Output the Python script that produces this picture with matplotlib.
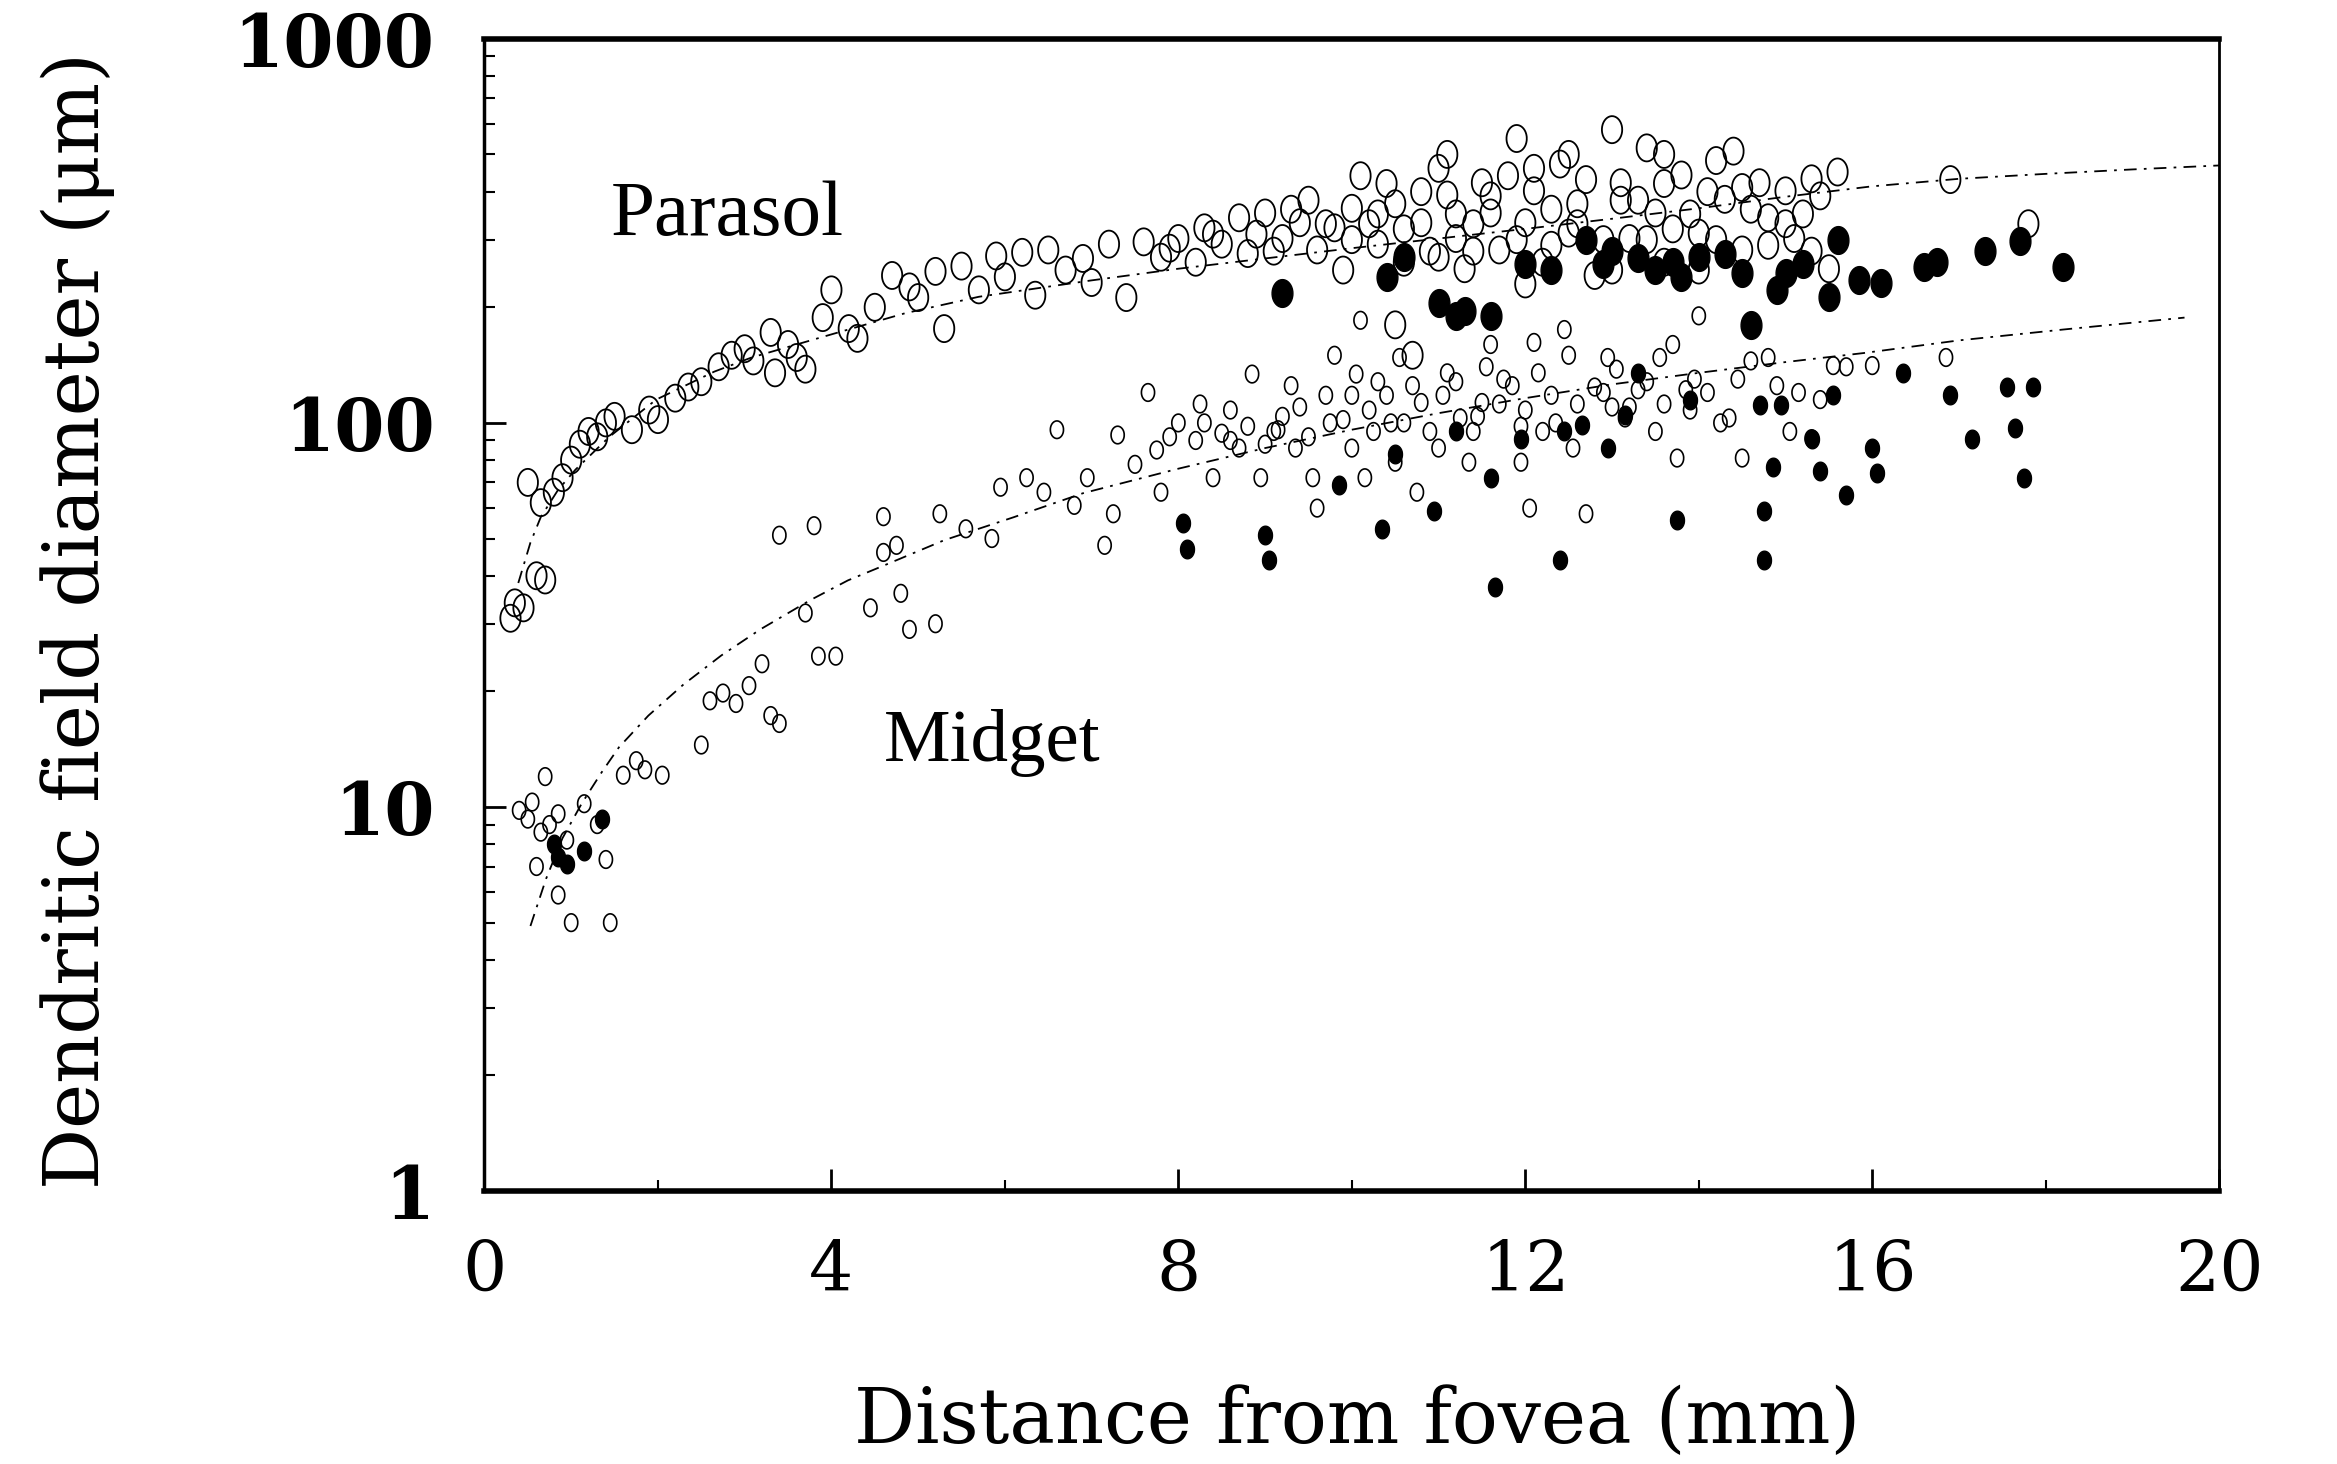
import numpy as np
import matplotlib
matplotlib.use("Agg")
import matplotlib.pyplot as plt
from matplotlib.path import Path
from matplotlib.ticker import FixedLocator, NullFormatter

# parasol cells, open symbols (distance mm, diameter um)
parasol_open_x = [0.3, 0.35, 0.45, 0.6, 0.7, 0.5, 0.65, 0.8, 0.9, 1.0, 1.1, 1.2, 1.3, 1.4, 1.5, 1.7, 1.9, 2.0,
                  2.2, 2.35, 2.5, 2.7, 2.85, 3.0, 3.1, 3.3, 3.35, 3.5, 3.6, 3.7, 3.9, 4.0, 4.2, 4.3, 4.5, 4.7,
                  4.9, 5.0, 5.2, 5.3, 5.5, 5.7, 5.9, 6.0, 6.2, 6.35, 6.5, 6.7, 6.9, 7.0, 7.2, 7.4, 7.6, 7.8,
                  8.0, 8.2, 8.3, 8.5, 8.7, 8.8, 9.0, 9.2, 9.4, 9.6, 9.8, 10.0, 10.1, 10.3, 10.5, 10.6, 10.5,
                  10.7, 10.8, 11.0, 11.1, 11.2, 11.3, 11.5, 11.6, 11.7, 11.9, 12.0, 12.1, 12.2, 12.4, 12.5,
                  12.6, 12.8, 13.0, 13.1, 13.2, 13.4, 13.5, 13.6, 13.8, 14.0, 14.2, 14.3, 14.5, 14.7, 14.8,
                  15.0, 15.1, 15.3, 15.5, 15.6, 16.9, 17.8, 9.5, 10.2, 10.9, 11.4, 11.8, 12.3, 12.7, 13.3,
                  13.7, 14.1, 14.6, 15.2, 8.9, 9.9, 10.4, 11.1, 12.5, 13.6, 14.4, 15.4,
                  9.1, 9.3, 9.7, 10.0, 10.3, 10.6, 10.8, 11.2, 11.4, 11.6, 11.9, 12.1, 12.3, 12.6, 12.9,
                  13.1, 13.4, 13.6, 13.9, 14.2, 14.5, 14.8, 15.0, 15.3, 7.9, 8.4, 11.0, 12.0, 13.0, 14.0]
parasol_open_y = [31, 34, 33, 40, 39, 70, 62, 66, 72, 80, 88, 95, 92, 100, 104, 96, 108, 102,
                  116, 124, 128, 140, 150, 156, 145, 172, 135, 160, 148, 138, 188, 222, 176, 166, 200, 242,
                  226, 212, 248, 176, 256, 222, 272, 240, 278, 215, 282, 250, 268, 232, 292, 212, 296, 270,
                  302, 262, 322, 292, 342, 276, 352, 302, 332, 282, 322, 362, 440, 292, 372, 262, 180,
                  150, 332, 460, 392, 302, 252, 422, 352, 282, 550, 332, 402, 262, 472, 312,
                  372, 242, 580, 422, 302, 520, 352, 262, 442, 312, 482, 382, 282, 422, 342,
                  402, 302, 432, 252, 450, 430, 330, 380, 330, 280, 330, 440, 360, 430, 380,
                  320, 400, 360, 350, 310, 250, 420, 500, 500, 500, 510, 390,
                  280, 360, 330, 300, 350, 320, 400, 350, 280, 390, 300, 460, 290, 330, 300,
                  380, 300, 420, 350, 300, 410, 290, 330, 280, 285, 310, 270, 230, 250, 250]

# parasol cells, filled symbols
parasol_fill_x = [9.2, 10.4, 10.6, 11.0, 11.3, 11.6, 12.0, 12.3, 12.7, 13.0, 13.3, 13.7, 13.8, 14.3, 14.6,
                  14.9, 15.0, 15.5, 15.6, 15.85, 16.1, 16.6, 16.75, 17.3, 17.7, 18.2,
                  13.5, 14.0, 14.5, 15.2, 12.9, 11.2]
parasol_fill_y = [218, 240, 270, 205, 195, 190, 260, 250, 300, 280, 268, 262, 240, 275, 180,
                  222, 245, 213, 300, 235, 232, 255, 262, 281, 297, 255,
                  250, 270, 245, 260, 260, 190]

# midget cells, open symbols
midget_open_x = [0.4, 0.5, 0.55, 0.65, 0.7, 0.75, 0.85, 0.95, 0.6, 0.85, 1.0, 1.45, 1.4, 1.3, 1.15,
                 1.6, 1.75, 1.85, 2.05, 2.5, 2.6, 2.75, 2.9, 3.05, 3.2, 3.3, 3.4, 3.4, 3.8, 3.7, 3.85,
                 4.05, 4.45, 4.6, 4.75, 4.8, 4.9, 5.2, 4.6, 5.25, 5.55, 5.85, 5.95, 6.25, 6.45, 6.6,
                 6.8, 6.95, 7.15, 7.25, 7.3, 7.5, 7.65, 7.75, 7.8, 8.2, 8.25, 8.4, 8.5, 8.7, 8.85, 8.95,
                 9.1, 9.2, 9.35, 9.55, 9.6, 9.7, 9.9, 10.0, 10.05, 10.15, 10.25, 10.4, 10.5, 10.55,
                 10.6, 10.75, 10.8, 11.0, 11.1, 11.25, 11.35, 11.5, 11.6, 11.75, 11.95, 11.95, 12.05,
                 12.1, 12.3, 12.45, 12.55, 12.7, 12.8, 12.95, 13.15, 13.3, 13.5, 13.55, 13.75, 13.85,
                 14.0, 14.35, 14.5, 14.6, 14.8, 15.05, 15.3, 15.55, 16.0, 16.85, 10.1, 9.3, 8.0, 8.6,
                 11.4, 12.2, 13.0, 13.9, 9.8,
                 7.9, 8.3, 8.6, 8.8, 9.0, 9.15, 9.4, 9.5, 9.75, 10.0, 10.2, 10.3, 10.45, 10.7, 10.9,
                 11.05, 11.2, 11.45, 11.55, 11.7, 11.85, 12.0, 12.15, 12.35, 12.5, 12.6, 12.9, 13.05,
                 13.2, 13.4, 13.6, 13.7, 13.95, 14.1, 14.25, 14.45, 14.9, 15.15, 15.4, 15.7]
midget_open_y = [9.8, 9.3, 10.3, 8.6, 12.0, 9.0, 9.6, 8.2, 7.0, 5.9, 5.0, 5.0, 7.3, 9.0, 10.2,
                 12.1, 13.2, 12.5, 12.1, 14.5, 18.9, 19.8, 18.6, 20.7, 23.6, 17.3, 16.5, 51, 54, 32, 24.7,
                 24.7, 33, 46, 48, 36, 29, 30, 57, 58, 53, 50, 68, 72, 66, 96,
                 61, 72, 48, 58, 93, 78, 120, 85, 66, 90, 112, 72, 94, 86, 134, 72,
                 95, 104, 86, 72, 60, 118, 102, 86, 134, 72, 95, 118, 79, 148,
                 100, 66, 113, 86, 135, 103, 79, 113, 160, 130, 98, 79, 60,
                 162, 118, 175, 86, 58, 124, 148, 103, 122, 95, 148, 81, 122,
                 190, 103, 81, 145, 148, 95, 91, 141, 141, 148, 185, 125, 100, 108,
                 95, 95, 110, 108, 150,
                 92, 100, 90, 98, 88, 96, 110, 92, 100, 118, 108, 128, 100, 125, 95,
                 118, 128, 104, 140, 112, 125, 108, 135, 100, 150, 112, 120, 138,
                 110, 128, 112, 160, 130, 120, 100, 130, 125, 120, 115, 140]

# midget cells, filled symbols
midget_fill_x = [0.8, 0.85, 0.95, 1.15, 1.35, 8.05, 8.1, 9.0, 9.05, 9.85, 10.35, 10.5, 10.95, 11.2, 11.6,
                 11.65, 11.95, 12.4, 12.45, 12.65, 12.95, 13.15, 13.3, 13.75, 13.9, 14.7, 14.75, 14.75,
                 14.85, 14.95, 15.3, 15.4, 15.55, 15.7, 16.0, 16.05, 16.35, 16.9, 17.15, 17.55, 17.65,
                 17.75, 17.85]
midget_fill_y = [8.0, 7.4, 7.1, 7.7, 9.3, 55, 47, 51, 44, 69, 53, 83, 59, 95, 72,
                 37.5, 91, 44, 95, 99, 86, 105, 135, 56, 115, 111, 59, 44,
                 77, 111, 91, 75, 118, 65, 86, 74, 135, 118, 91, 124, 97,
                 72, 124]

# fitted curves
parasol_fit_x = [0.39, 0.53, 0.65, 0.85, 1.05, 1.44, 1.98, 2.65, 3.08, 4.0, 4.85, 5.7, 7, 8, 9, 10, 11, 12,
                 13, 14, 15, 16, 17, 18, 19, 20]
parasol_fit_y = [38.3, 48.8, 56.9, 67, 75.6, 92, 115, 136, 148, 170, 193, 213, 235, 252, 268, 285, 302, 320,
                 340, 362, 388, 413, 432, 445, 457, 468]
midget_fit_x = [0.53, 0.71, 0.9, 1.12, 1.35, 1.55, 1.89, 2.29, 2.73, 3.18, 3.75, 4.19, 4.58, 5.3, 6.1, 6.9,
                8, 9, 10, 11, 12, 13, 14, 15, 15.9, 17, 18.2, 19.6]
midget_fit_y = [4.9, 6.5, 8.3, 10.2, 12.3, 14.3, 17.3, 20.8, 24.8, 29, 34.5, 38.9, 42.3, 49.5, 56.8, 65.6,
                76, 86, 96, 106, 116, 126, 135, 144, 152, 164, 175, 188]

x_ticks = [0, 4, 8, 12, 16, 20]
y_ticks = [1, 10, 100, 1000]

# tall ellipse symbol, like the scanned markers
t = np.linspace(0, 2 * np.pi, 40)
ellipse = Path(np.column_stack([0.75 * np.cos(t), np.sin(t)]))

fig = plt.figure(figsize=(23.37, 14.64), dpi=100)
ax = fig.add_axes([0.2073, 0.1864, 0.7423, 0.7871])

ax.plot(parasol_fit_x, parasol_fit_y, color='black', lw=1.3, linestyle=(0, (7, 4, 1.5, 4)))
ax.plot(midget_fit_x, midget_fit_y, color='black', lw=1.3, linestyle=(0, (7, 4, 1.5, 4)))

ax.scatter(parasol_open_x, parasol_open_y, marker=ellipse, s=380, facecolors='none',
           edgecolors='black', linewidths=1.3)
ax.scatter(parasol_fill_x, parasol_fill_y, marker=ellipse, s=400, color='black')
ax.scatter(midget_open_x, midget_open_y, marker=ellipse, s=160, facecolors='none',
           edgecolors='black', linewidths=1.2)
ax.scatter(midget_fill_x, midget_fill_y, marker=ellipse, s=180, color='black')

ax.text(1.46, 308, 'Parasol', fontsize=57, family='Liberation Serif', va='baseline')
ax.text(4.6, 13.2, 'Midget', fontsize=54, family='Liberation Serif', va='baseline')

ax.set_yscale('log')
ax.set_xlim(0, 20)
ax.set_ylim(1, 1000)
ax.set_xticks(x_ticks)
ax.set_xticklabels([str(v) for v in x_ticks], family='DejaVu Serif', fontsize=50)
ax.xaxis.set_minor_locator(FixedLocator([2, 6, 10, 14, 18]))
ax.set_yticks(y_ticks)
ax.set_yticklabels([str(v) for v in y_ticks], family='DejaVu Serif', fontsize=52, fontweight='bold')
ax.yaxis.set_minor_formatter(NullFormatter())

ax.tick_params(which='major', direction='in', length=16, width=2)
ax.tick_params(which='minor', direction='in', length=8, width=1.5)
ax.tick_params(axis='y', which='major', pad=36)
ax.tick_params(axis='x', which='major', pad=34)

ax.spines['top'].set_linewidth(4)
ax.spines['bottom'].set_linewidth(4)
ax.spines['left'].set_linewidth(2.5)
ax.spines['right'].set_linewidth(2)

ax.set_xlabel('Distance from fovea (mm)', family='DejaVu Serif', fontsize=55)
ax.xaxis.set_label_coords(0.503, -0.168)
ax.set_ylabel('Dendritic field diameter (\u03bcm)', family='DejaVu Serif', fontsize=55)
ax.yaxis.set_label_coords(-0.213, 0.495)

plt.savefig('out.png', dpi=100)
